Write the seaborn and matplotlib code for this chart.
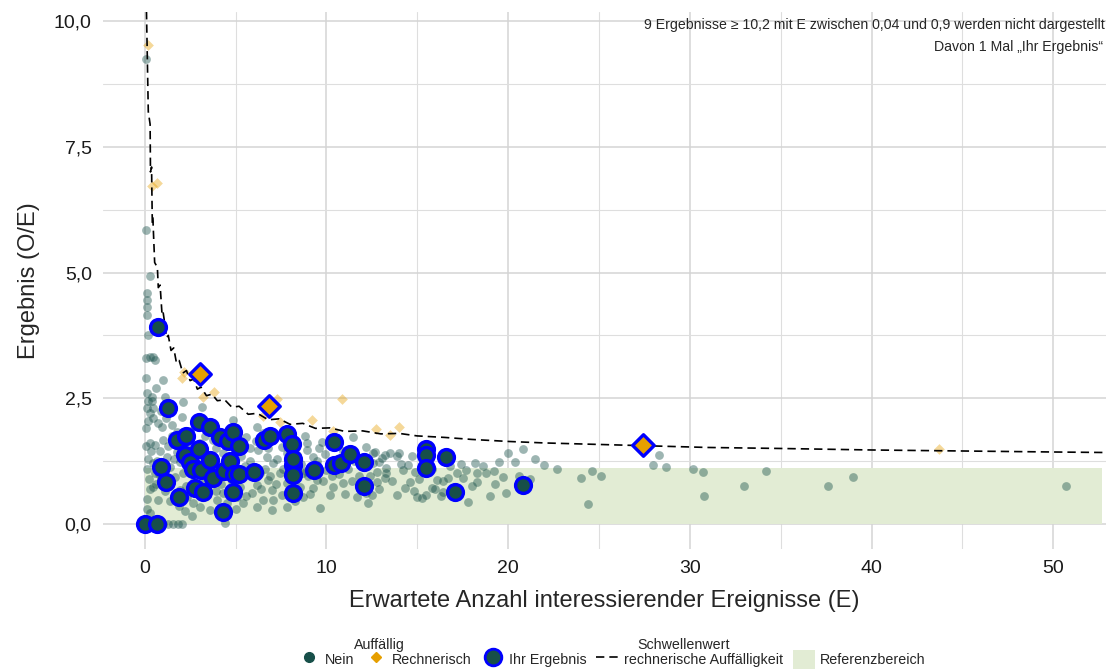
import matplotlib
matplotlib.use("Agg")
import matplotlib.pyplot as plt
import matplotlib.ticker as mticker
from matplotlib.lines import Line2D
from matplotlib.patches import Patch
import seaborn as sns
import pandas as pd

# ---- data ----
# "Nein" results: expected events E and ratio O/E
nein_e = [0.05, 0.05, 0.3, 0.15, 0.15, 0.15, 0.15, 0.2, 0.44, 0.55, 0.28, 1.0, 0.39, 0.39, 0.44, 1.1, 1.2, 0.44, 0.94, 1.49,
          0.55, 1.0, 2.1, 2.04, 1.76, 3.14, 3.4, 3.58, 3.74, 2.31, 3.03, 2.48, 3.58, 4.3, 4.0, 4.85, 5.07, 5.6, 5.78, 6.22,
          6.17, 6.72, 7.05, 7.54, 7.82, 8.37, 8.92, 9.25, 9.75, 9.47, 10.0, 8.7, 8.15, 7.82, 7.43, 6.77, 6.33, 6.17, 5.89, 5.23,
          5.07, 5.4, 4.52, 3.96, 3.41, 3.03, 2.64, 2.31, 1.93, 3.58, 4.4, 4.3, 3.74, 2.97, 2.48, 2.1, 1.65, 1.38, 1.93, 1.76,
          1.21, 0.44, 0.55, 0.44, 0.72, 0.28, 1.0, 1.27, 1.54, 1.82, 2.04,
          10.35, 11.45, 12.55, 13.05, 13.3, 12.8, 12.2, 11.67, 12.3, 10.9, 10.35, 10.2, 9.47, 9.25, 8.7, 8.53, 8.1, 7.54, 7.0, 7.05,
          6.5, 6.17, 7.0, 9.64, 7.82, 10.57, 11.45, 12.2, 13.5, 8.92, 7.82, 7.05, 6.5, 7.6,
          12.67, 13.2, 13.9, 12.55, 12.9, 13.3, 12.8, 13.2, 12.5, 13.9, 14.3, 14.6, 14.2, 14.5, 14.9, 15.0, 15.25, 15.8, 16.1, 16.4,
          16.7, 17.2, 17.5, 17.8, 17.7, 18.3, 18.3, 18.8, 19.3, 19.7, 19.9, 20.0, 20.8, 19.5, 20.4, 21.2, 18.2, 22.0, 14.7, 15.3,
          15.8, 16.3, 16.4, 15.5, 14.0,
          22.7, 24.0, 24.6, 25.1, 24.4, 28.0, 28.7, 28.3, 30.2, 30.7, 30.8, 33.0, 34.2, 37.6, 39.0, 50.7,
          2.8, 3.2, 3.9, 4.6, 5.5, 5.9, 6.6, 4.2, 4.8, 3.3, 2.7, 5.3, 6.9, 7.3, 8.6, 9.0, 9.8, 10.7, 11.2, 11.8,
          11.5, 10.9, 9.6, 8.8, 1.5, 1.2, 0.9, 0.8, 1.1, 1.4, 2.2, 2.6, 0.2, 0.15, 0.1, 0.3, 0.2, 0.25, 0.15, 0.6,
          0.35, 0.5,
          0.1, 0.1, 0.12, 0.2, 0.3, 0.1, 0.35, 0.15, 0.3, 0.12, 0.6, 0.75, 0.85, 0.7, 0.9, 1.3, 1.6, 1.7, 1.9, 2.3,
          2.5, 2.9, 3.3, 3.6, 3.9, 4.1, 4.5, 4.7, 5.0, 5.6, 5.8, 6.1, 6.4, 6.8, 7.2, 7.6, 8.0, 8.3, 8.9, 9.1,
          9.5, 9.9, 10.3, 10.6, 11.0, 11.4, 11.9, 12.4, 12.9, 13.6, 14.1, 14.8, 15.1, 15.6, 16.0, 16.8, 17.0, 17.4, 18.0, 18.6,
          19.0, 19.2, 20.6, 21.5]
nein_o = [9.24, 5.84, 4.93, 4.59, 4.45, 4.31, 4.15, 3.76, 3.32, 3.26, 3.32, 2.86, 2.52, 2.45, 2.31, 2.52, 2.4, 2.1, 1.93, 1.97,
          1.57, 1.67, 2.43, 2.13, 1.83, 2.33, 2.0, 1.83, 1.67, 1.53, 1.61, 1.33, 1.33, 1.41, 1.17, 2.07, 1.61, 1.73, 1.51, 1.47,
          1.93, 1.33, 1.21, 1.53, 1.41, 1.37, 1.47, 1.33, 1.63, 1.17, 1.07, 1.01, 0.97, 0.81, 1.01, 0.87, 1.01, 0.78, 0.62, 0.74,
          0.54, 0.42, 0.42, 0.48, 0.58, 0.34, 0.42, 0.54, 0.68, 0.28, 0.02, 0.62, 0.87, 1.07, 1.07, 1.01, 0.93, 1.13, 1.23, 1.43,
          1.33, 1.21, 1.01, 0.74, 0.48, 0.22, 0.0, 0.0, 0.0, 0.0, 0.0,
          1.63, 1.43, 1.41, 1.31, 1.01, 0.83, 0.62, 0.54, 0.42, 0.81, 0.74, 0.58, 0.87, 0.72, 0.54, 0.74, 0.64, 0.58, 0.68, 0.48,
          0.48, 0.34, 0.28, 0.32, 0.34, 1.71, 1.73, 1.53, 1.41, 1.61, 1.71, 1.67, 1.81, 1.83,
          1.43, 1.37, 1.35, 1.21, 1.23, 1.11, 1.03, 0.91, 0.58, 0.58, 0.72, 0.83, 1.07, 1.17, 1.03, 0.54, 0.52, 0.72, 0.87, 0.64,
          0.91, 1.01, 0.91, 0.44, 1.07, 1.01, 0.83, 1.01, 0.80, 0.93, 0.62, 1.41, 1.49, 1.23, 1.23, 0.89, 1.21, 1.17, 1.35, 1.21,
          1.09, 0.56, 0.85, 0.58, 1.41,
          1.09, 0.91, 1.05, 0.95, 0.40, 1.17, 1.13, 1.37, 1.09, 1.03, 0.56, 0.76, 1.05, 0.76, 0.93, 0.76,
          1.45, 1.25, 1.5, 1.3, 1.15, 0.95, 1.1, 0.8, 0.85, 0.9, 0.85, 1.35, 0.95, 1.3, 1.2, 0.95, 0.85, 1.0, 1.1, 0.95,
          1.25, 1.45, 1.5, 1.75, 1.75, 2.1, 2.25, 1.0, 0.65, 0.45, 0.25, 0.15, 2.05, 2.6, 1.9, 1.6, 1.3, 0.9, 0.5, 0.8,
          0.0, 0.0,
          3.3, 2.9, 2.3, 2.45, 2.2, 1.55, 1.45, 1.1, 0.7, 0.3, 2.7, 2.0, 1.45, 1.25, 0.9, 1.55, 1.3, 0.55, 0.35, 0.75,
          1.85, 1.95, 1.75, 1.05, 0.65, 0.3, 1.15, 1.85, 0.3, 0.55, 1.25, 1.65, 0.7, 1.5, 0.8, 1.1, 1.45, 0.45, 1.05, 0.6,
          1.25, 1.4, 0.95, 1.3, 0.6, 0.85, 1.2, 0.95, 0.7, 0.85, 1.2, 0.65, 0.9, 1.3, 0.7, 1.15, 0.6, 1.2, 0.75, 1.15,
          0.55, 1.05, 0.95, 1.3]

# "Rechnerisch" results (arithmetically conspicuous)
rech_e = [0.17, 0.39, 0.66, 2.15, 2.04, 3.8, 3.19, 7.27, 6.5, 7.43, 9.2, 10.85, 12.72, 14.0, 10.35, 13.5, 43.7]
rech_o = [9.52, 6.72, 6.78, 3.02, 2.9, 2.62, 2.52, 2.49, 2.15, 2.03, 2.07, 2.49, 1.89, 1.93, 1.85, 1.77, 1.49]

# "Ihr Ergebnis" - not conspicuous
ihr_e = [0.72, 1.27, 0.0, 0.66, 0.88, 1.16, 1.76, 1.87, 2.26, 2.2, 2.48, 2.64, 2.75, 2.97, 2.97, 3.08, 3.19, 3.58, 3.58, 3.74,
         4.13, 4.35, 4.3, 4.57, 4.85, 4.68, 4.9, 4.85, 5.18, 5.18, 6.0, 6.55, 6.88, 7.82, 8.1, 8.15, 8.15, 8.15, 8.15, 9.3,
         10.4, 10.4, 10.8, 11.3, 12.06, 12.06, 15.5, 15.5, 15.5, 16.6, 17.1, 20.8]
ihr_o = [3.92, 2.31, 0.0, 0.0, 1.13, 0.83, 1.67, 0.54, 1.75, 1.37, 1.23, 1.09, 0.72, 2.03, 1.49, 1.07, 0.64, 1.93, 1.27, 0.91,
         1.73, 1.05, 0.24, 1.65, 1.83, 1.25, 0.99, 0.64, 1.55, 0.99, 1.03, 1.67, 1.75, 1.79, 1.59, 1.17, 0.97, 0.62, 1.29, 1.07,
         1.63, 1.17, 1.21, 1.39, 1.23, 0.76, 1.49, 1.37, 1.11, 1.33, 0.64, 0.78]

# "Ihr Ergebnis" - rechnerisch auffaellig
ihr_rech_e = [3.03, 6.83, 27.4]
ihr_rech_o = [2.98, 2.35, 1.57]

# threshold line (rechnerische Auffaelligkeit)
thr_e = [0.10, 0.2, 0.3, 0.32, 0.38, 0.42, 0.45, 0.55, 0.7, 0.75, 0.85, 0.95, 1.0, 1.1, 1.2, 1.3, 1.45, 1.6, 1.75, 1.9,
         2.1, 2.3, 2.5, 2.7, 2.9, 3.1, 3.4, 3.7, 4.0, 4.4, 4.8, 5.2, 5.7, 6.2, 6.8, 7.4, 8.0, 8.7, 9.4, 10.2,
         11.0, 12.0, 13.0, 14.0, 15.0, 16.5, 18.0, 20.0, 22.0, 25.0, 28.0, 31.0, 35.0, 40.0, 45.0, 50.0, 52.8]
thr_o = [10.2, 8.2, 7.95, 7.0, 7.1, 6.0, 6.1, 5.2, 5.1, 4.7, 4.75, 4.2, 4.25, 4.0, 3.7, 3.75, 3.45, 3.5, 3.2, 3.25,
         3.0, 3.05, 2.85, 2.88, 2.68, 2.72, 2.55, 2.58, 2.45, 2.47, 2.32, 2.34, 2.18, 2.2, 2.07, 2.09, 1.98, 2.0, 1.9, 1.91,
         1.84, 1.85, 1.79, 1.8, 1.75, 1.72, 1.68, 1.64, 1.61, 1.58, 1.55, 1.52, 1.5, 1.47, 1.45, 1.43, 1.42]

ref_low, ref_high = 0.0, 1.12
ref_e_max = 52.7

teal = "#174f49"
orange = "#E69F00"
blue = "#0000FF"
ref_col = "#e2ecd4"

sns.set_style("white")
plt.rcParams["font.family"] = ["Liberation Sans", "DejaVu Sans"]

fig = plt.figure(figsize=(11.06, 6.72), dpi=100)
ax = fig.add_axes([0.093, 0.183, 0.907, 0.799])

# reference band
ax.fill_between([0, ref_e_max], ref_low, ref_high, color=ref_col, zorder=1, linewidth=0)

df_nein = pd.DataFrame({"E": nein_e, "OE": nein_o})
df_rech = pd.DataFrame({"E": rech_e, "OE": rech_o})
df_ihr = pd.DataFrame({"E": ihr_e, "OE": ihr_o})
df_ihr_r = pd.DataFrame({"E": ihr_rech_e, "OE": ihr_rech_o})
df_thr = pd.DataFrame({"E": thr_e, "OE": thr_o})

sns.scatterplot(data=df_nein, x="E", y="OE", ax=ax, color=teal, alpha=0.42, s=40,
                linewidth=0, zorder=3, legend=False)
sns.scatterplot(data=df_rech, x="E", y="OE", ax=ax, color=orange, alpha=0.4, s=30, marker="D",
                linewidth=0, zorder=3, legend=False)
sns.lineplot(data=df_thr, x="E", y="OE", ax=ax, color="black", linestyle=(0, (5, 3)),
             linewidth=1.2, sort=False, estimator=None, zorder=4, legend=False)
sns.scatterplot(data=df_ihr, x="E", y="OE", ax=ax, color=teal, s=130, edgecolor=blue,
                linewidth=2.4, zorder=5, legend=False)
sns.scatterplot(data=df_ihr_r, x="E", y="OE", ax=ax, color=orange, s=120, marker="D", edgecolor=blue,
                linewidth=2.4, zorder=6, legend=False)

ax.set_xlim(-2.3, 52.9)
ax.set_ylim(-0.5, 10.18)
ax.xaxis.set_major_locator(mticker.MultipleLocator(10))
ax.xaxis.set_minor_locator(mticker.MultipleLocator(5))
ax.yaxis.set_major_locator(mticker.MultipleLocator(2.5))
ax.yaxis.set_minor_locator(mticker.MultipleLocator(1.25))
ax.yaxis.set_major_formatter(mticker.FuncFormatter(lambda v, p: f"{v:.1f}".replace(".", ",")))
ax.grid(which="major", color="#d4d4d4", linewidth=1.1, zorder=0)
ax.grid(which="minor", color="#dedede", linewidth=0.8, zorder=0)
ax.set_axisbelow(True)
for sp in ax.spines.values():
    sp.set_visible(False)
ax.tick_params(axis="both", which="both", length=0, labelsize=14, colors="#1a1a1a", pad=8)

ax.set_xlabel("Erwartete Anzahl interessierender Ereignisse (E)", fontsize=17, labelpad=9)
ax.set_ylabel("Ergebnis (O/E)", fontsize=17, labelpad=10)

ax.text(0.999, 0.976, "9 Ergebnisse \u2265 10,2 mit E zwischen 0,04 und 0,9 werden nicht dargestellt",
        transform=ax.transAxes, ha="right", va="center", fontsize=10.2)
ax.text(0.997, 0.935, "Davon 1 Mal \u201eIhr Ergebnis\u201c",
        transform=ax.transAxes, ha="right", va="center", fontsize=10.2)

# legend
handles = [
    Line2D([], [], marker="o", linestyle="", color=teal, markersize=7),
    Line2D([], [], marker="D", linestyle="", color=orange, markersize=5),
    Line2D([], [], marker="o", linestyle="", markerfacecolor=teal, markeredgecolor=blue,
           markeredgewidth=2, markersize=12),
    Line2D([], [], color="black", linestyle=(0, (5, 3)), linewidth=1.2),
    Patch(facecolor=ref_col, edgecolor="none"),
]
labels = ["Nein", "Rechnerisch", "Ihr Ergebnis", "rechnerische Auffälligkeit", "Referenzbereich"]
fig.legend(handles, labels, loc="lower center", bbox_to_anchor=(0.553, -0.014), ncol=5,
           frameon=False, fontsize=10.3, handlelength=1.6, handleheight=1.6, handletextpad=0.3,
           columnspacing=0.7)
fig.text(0.343, 0.04, "Auffällig", ha="center", va="center", fontsize=10.3)
fig.text(0.618, 0.04, "Schwellenwert", ha="center", va="center", fontsize=10.3)

fig.savefig("out.png", dpi=100)
